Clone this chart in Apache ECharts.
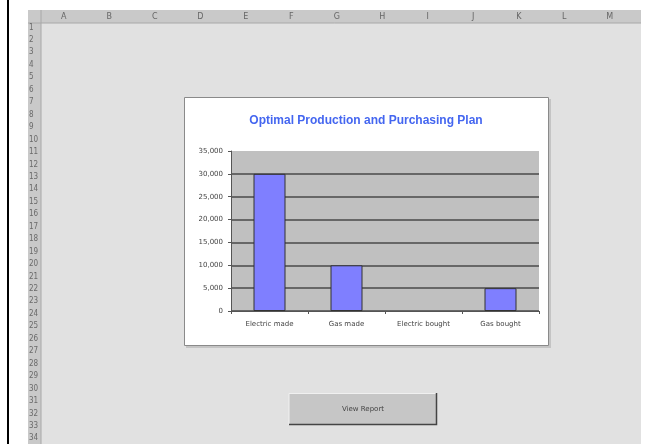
<!DOCTYPE html>
<html>
<head>
<meta charset="utf-8">
<script src="https://cdn.jsdelivr.net/npm/echarts@6/dist/echarts.min.js"></script>
<style>
html, body { margin: 0; padding: 0; background: #fff; }
#main { width: 653px; height: 444px; }
</style>
</head>
<body>
<div id="main"></div>
<script>
// chart data
var categories = ['Electric made', 'Gas made', 'Electric bought', 'Gas bought'];
var values = [30000, 10000, 0, 5000];
var colLetters = ['A','B','C','D','E','F','G','H','I','J','K','L','M'];
var rowCount = 34;

var titleText = 'Optimal Production and Purchasing Plan';
var buttonText = 'View Report';

// sheet layout
var sheetLeft = 28, sheetTop = 10, sheetRight = 641;
var hdrW = 13, hdrH = 13;
var colW = 45.5, rowH = 12.45;

var graphics = [];
// black line at left
graphics.push({type: 'rect', shape: {x: 7, y: 0, width: 2, height: 444}, style: {fill: '#000'}, z: 0});
// cell area
graphics.push({type: 'rect', shape: {x: sheetLeft, y: sheetTop, width: sheetRight - sheetLeft, height: 444 - sheetTop}, style: {fill: '#e1e1e1'}, z: 0});
// column header band
graphics.push({type: 'rect', shape: {x: sheetLeft, y: sheetTop, width: sheetRight - sheetLeft, height: hdrH}, style: {fill: '#c9c9c9'}, z: 1});
// row header band
graphics.push({type: 'rect', shape: {x: sheetLeft, y: sheetTop, width: hdrW, height: 444 - sheetTop}, style: {fill: '#c9c9c9'}, z: 1});
graphics.push({type: 'line', shape: {x1: sheetLeft + hdrW, y1: sheetTop, x2: sheetLeft + hdrW, y2: 444}, style: {stroke: '#a8a8a8', lineWidth: 1}, z: 2});
graphics.push({type: 'line', shape: {x1: sheetLeft, y1: sheetTop + hdrH, x2: sheetRight, y2: sheetTop + hdrH}, style: {stroke: '#a8a8a8', lineWidth: 1}, z: 2});

colLetters.forEach(function (c, i) {
    graphics.push({
        type: 'text', z: 3,
        style: {text: c, x: sheetLeft + hdrW + colW * (i + 0.5), y: sheetTop + hdrH / 2,
            textAlign: 'center', textVerticalAlign: 'middle', fill: '#666', font: '8px "DejaVu Sans"'}
    });
});
for (var r = 1; r <= rowCount; r++) {
    graphics.push({
        type: 'text', z: 3,
        style: {text: String(r), x: sheetLeft + 1, y: 27.5 + (r - 1) * rowH,
            textAlign: 'left', textVerticalAlign: 'middle', fill: '#6a6a6a', font: '8px "DejaVu Sans Condensed"'}
    });
}

// chart box with shadow
graphics.push({type: 'rect', shape: {x: 186, y: 99, width: 365, height: 249}, style: {fill: '#c4c4c4'}, z: 4});
graphics.push({type: 'rect', shape: {x: 184.5, y: 97.5, width: 364, height: 248}, style: {fill: '#fff', stroke: '#8a8a8a', lineWidth: 1}, z: 5});
graphics.push({
    type: 'text', z: 6,
    style: {text: titleText, x: 366, y: 121, textAlign: 'center', textVerticalAlign: 'middle',
        fill: '#4466f0', font: 'bold 12px "Liberation Sans"'}
});

// button
graphics.push({type: 'rect', shape: {x: 289, y: 393, width: 148, height: 32}, style: {fill: '#c6c6c6'}, z: 4});
graphics.push({type: 'polyline', shape: {points: [[289, 425], [289, 393.5], [437, 393.5]]}, style: {stroke: '#f0f0f0', lineWidth: 1, fill: null}, z: 5});
graphics.push({type: 'polyline', shape: {points: [[289, 424.5], [436.5, 424.5], [436.5, 393]]}, style: {stroke: '#444', lineWidth: 1.5, fill: null}, z: 5});
graphics.push({
    type: 'text', z: 6,
    style: {text: buttonText, x: 363, y: 409, textAlign: 'center', textVerticalAlign: 'middle',
        fill: '#444', font: '7px "DejaVu Sans"'}
});

var chart = echarts.init(document.getElementById('main'));
var option = {
    animation: false,
    graphic: graphics,
    grid: {left: 231, top: 151, width: 308, height: 160, show: true, backgroundColor: '#c0c0c0', borderWidth: 0, z: 7},
    xAxis: {
        type: 'category', data: categories, z: 8,
        axisLine: {lineStyle: {color: '#555', width: 1}},
        axisTick: {show: true, alignWithLabel: false, length: 3, lineStyle: {color: '#555'}},
        axisLabel: {color: '#444', fontSize: 7, fontFamily: 'DejaVu Sans', margin: 10}
    },
    yAxis: {
        type: 'value', min: 0, max: 35000, interval: 5000, z: 8,
        axisLine: {show: true, lineStyle: {color: '#555', width: 1}},
        axisTick: {show: true, length: 3, lineStyle: {color: '#555'}},
        axisLabel: {color: '#444', fontSize: 7, fontFamily: 'DejaVu Sans', margin: 8,
            formatter: function (v) { return v.toLocaleString('en-US'); }},
        splitLine: {showMaxLine: false, lineStyle: {color: '#4a4a4a', width: 1.5}}
    },
    series: [{
        type: 'bar', barWidth: 32, z: 9,
        data: values.map(function (v) {
            return {value: v, itemStyle: {borderWidth: v === 0 ? 0 : 1}};
        }),
        itemStyle: {color: '#7f7fff', borderColor: '#333', borderWidth: 1}
    }]
};
chart.setOption(option);
</script>
</body>
</html>
